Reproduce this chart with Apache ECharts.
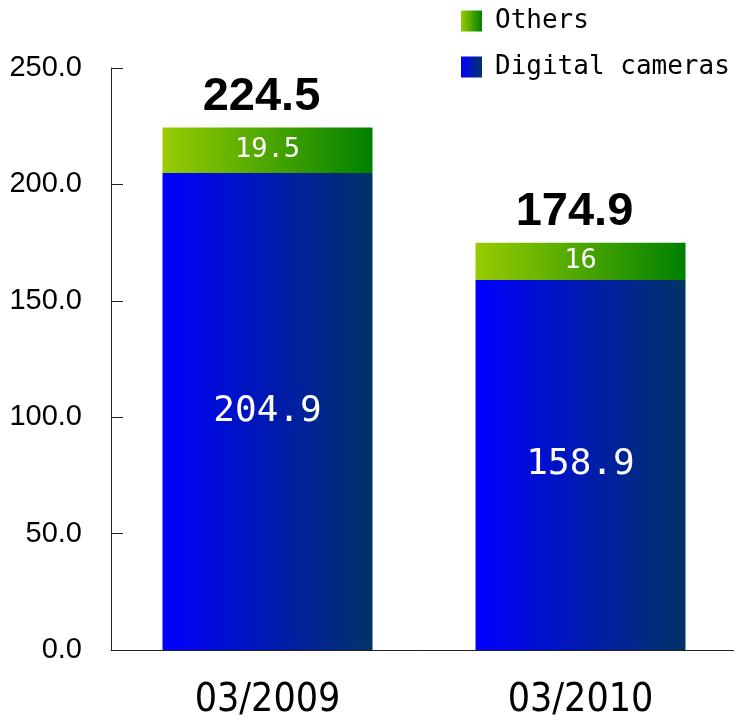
<!DOCTYPE html>
<html>
<head>
<meta charset="utf-8">
<script src="https://cdn.jsdelivr.net/npm/echarts@6/dist/echarts.min.js"></script>
<style>
  html, body { margin: 0; padding: 0; background: #fff; }
  #chart { width: 734px; height: 722px; }
</style>
</head>
<body>
<div id="chart"></div>
<script>
// data
var categories = ["03/2009", "03/2010"];
var digitalCameras = [204.9, 158.9];
var others = [19.5, 16];
var totals = [224.5, 174.9];
var yTicks = { min: 0, max: 250, interval: 50 };

var monoFont = "'DejaVu Sans Mono', 'Liberation Mono', monospace";
var narrowFont = "'Liberation Sans Narrow', 'DejaVu Sans Condensed', sans-serif";

function grad(c1, c2) {
  return new echarts.graphic.LinearGradient(0, 0, 1, 0, [
    { offset: 0, color: c1 },
    { offset: 1, color: c2 }
  ]);
}

var chart = echarts.init(document.getElementById("chart"));

chart.setOption({
  animation: false,
  backgroundColor: "#fff",
  // the plot runs a little past the right edge in the original
  grid: { left: 111, width: 626, top: 68, height: 582, outerBoundsMode: "none" },
  legend: {
    data: ["Others", "Digital cameras"],
    orient: "vertical",
    left: 461,
    top: 8,
    padding: 0,
    itemWidth: 21,
    itemHeight: 21,
    itemGap: 20,
    icon: "rect",
    textStyle: {
      fontFamily: monoFont,
      fontSize: 26,
      color: "#000",
      padding: [0, 0, 0, 8]
    }
  },
  xAxis: {
    type: "category",
    data: categories,
    axisLine: { lineStyle: { color: "#222", width: 1 } },
    axisTick: { inside: true, length: 12, lineStyle: { color: "#222" } },
    axisLabel: {
      margin: 31,
      fontFamily: narrowFont,
      fontSize: 39,
      color: "#000"
    }
  },
  yAxis: {
    type: "value",
    min: yTicks.min,
    max: yTicks.max,
    interval: yTicks.interval,
    splitLine: { show: false },
    axisLine: { show: true, lineStyle: { color: "#222", width: 1 } },
    axisTick: { show: true, inside: true, length: 12, lineStyle: { color: "#222" } },
    axisLabel: {
      margin: 29,
      fontFamily: "'Liberation Sans', Arial, sans-serif",
      fontSize: 29,
      color: "#000",
      formatter: function (v) { return v.toFixed(1); }
    }
  },
  series: [
    {
      name: "Digital cameras",
      type: "bar",
      stack: "sales",
      barWidth: 210,
      data: digitalCameras,
      itemStyle: { color: grad("#0000ff", "#003366") },
      label: {
        show: true,
        position: "inside",
        color: "#fff",
        fontFamily: monoFont,
        fontSize: 36
      }
    },
    {
      name: "Others",
      type: "bar",
      stack: "sales",
      barWidth: 210,
      data: others,
      itemStyle: { color: grad("#99cc00", "#008000") },
      label: {
        show: true,
        position: "inside",
        color: "#fff",
        fontFamily: monoFont,
        fontSize: 27
      }
    },
    {
      // invisible zero-height bar carrying the totals above each stack
      name: "Total",
      type: "bar",
      stack: "sales",
      barWidth: 210,
      data: totals.map(function () { return 0; }),
      itemStyle: { color: "transparent" },
      label: {
        show: true,
        position: "top",
        distance: 7,
        offset: [-6, 0],
        color: "#000",
        fontFamily: "'Liberation Sans', Arial, sans-serif",
        fontWeight: "bold",
        fontSize: 47,
        formatter: function (p) { return totals[p.dataIndex].toFixed(1); }
      }
    }
  ]
});
</script>
</body>
</html>
